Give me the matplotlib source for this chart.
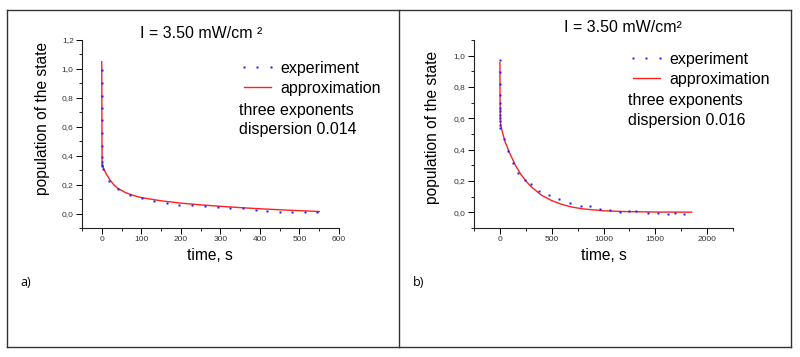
"""
Population decay of the state at I = 3.50 mW/cm2: experiment vs three-exponent fit.
"""

import matplotlib
matplotlib.use('Agg')
import matplotlib.pyplot as plt
from matplotlib.lines import Line2D
from matplotlib.ticker import MultipleLocator, FuncFormatter

# ===== DATA =====
# panel a) experiment
a_exp_t = [0, 0, 0, 0, 0, 0, 0, 0, 0, 0, 0, 3, 19, 40, 71, 102, 132, 164, 196,
           228, 260, 293, 324, 357, 389, 418, 451, 482, 514, 544]
a_exp_y = [0.99, 0.90, 0.815, 0.727, 0.644, 0.556, 0.466, 0.39, 0.355, 0.339, 0.33,
           0.31, 0.228, 0.171, 0.13, 0.106, 0.088, 0.074, 0.058,
           0.062, 0.05, 0.046, 0.037, 0.035, 0.026, 0.019, 0.014, 0.012, 0.014, 0.009]
# panel a) approximation
a_fit_t = [0, 0.5, 1, 2, 5, 10, 20, 30, 40, 60, 80, 100, 150, 200, 250, 300,
           350, 400, 450, 500, 550]
a_fit_y = [1.05, 0.5, 0.34, 0.33, 0.31, 0.28, 0.235, 0.2, 0.175, 0.145, 0.125,
           0.11, 0.088, 0.072, 0.06, 0.05, 0.041, 0.033, 0.026, 0.02, 0.014]

# panel b) experiment
b_exp_t = [0, 0, 0, 0, 0, 0, 0, 0, 0, 0, 0, 0, 35, 74, 122, 177, 242, 300, 381,
           471, 575, 678, 785, 872, 962, 1059, 1156, 1246, 1311, 1430, 1527,
           1618, 1689, 1776]
b_exp_y = [0.974, 0.893, 0.821, 0.75, 0.697, 0.665, 0.644, 0.623, 0.601, 0.58,
           0.559, 0.541, 0.467, 0.392, 0.317, 0.25, 0.207, 0.179, 0.138,
           0.111, 0.083, 0.061, 0.04, 0.04, 0.019, 0.015, 0.002, 0.01, 0.006,
           -0.006, -0.006, -0.013, -0.006, -0.009]
# panel b) approximation
b_fit_t = [0, 1, 2, 4, 8, 25, 50, 100, 150, 200, 250, 300, 400, 500, 600, 700,
           800, 1000, 1200, 1500, 1850]
b_fit_y = [0.955, 0.80, 0.70, 0.60, 0.555, 0.51, 0.45, 0.37, 0.30, 0.245, 0.2,
           0.165, 0.11, 0.075, 0.05, 0.033, 0.022, 0.01, 0.005, 0.002, 0.001]

title_text = ['I = 3.50 mW/cm \u00b2', 'I = 3.50 mW/cm\u00b2']
dispersions = ['0.014', '0.016']
panel_labels = ['a)', 'b)']

W, H = 800, 357
FS = 11.5
plt.rcParams['font.family'] = ['Liberation Sans', 'DejaVu Sans']


def px(x, y):
    """Pixel position -> figure fraction."""
    return x / W, 1 - y / H


def style_axes(ax, xlim, ylim, xmajor, ymajor):
    ax.set_xlim(*xlim)
    ax.set_ylim(*ylim)
    ax.spines['top'].set_visible(False)
    ax.spines['right'].set_visible(False)
    for s in ('left', 'bottom'):
        ax.spines[s].set_linewidth(0.8)
        ax.spines[s].set_color('#222222')
    ax.xaxis.set_major_locator(MultipleLocator(xmajor))
    ax.xaxis.set_minor_locator(MultipleLocator(xmajor / 2))
    ax.yaxis.set_major_locator(MultipleLocator(ymajor))
    ax.yaxis.set_minor_locator(MultipleLocator(ymajor / 2))
    ax.yaxis.set_major_formatter(FuncFormatter(lambda v, p: f'{v:.1f}'.replace('.', ',')))
    ax.tick_params(which='major', direction='out', length=4, width=0.7,
                   labelsize=6, labelcolor='#333333', pad=2)
    ax.tick_params(which='minor', direction='out', length=2, width=0.6)


fig = plt.figure(figsize=(W / 100, H / 100), dpi=100)

panels = [
    dict(exp=(a_exp_t, a_exp_y), fit=(a_fit_t, a_fit_y), xlim=(-50, 600),
         ylim=(-0.1, 1.2), xmajor=100, box=(82, 40, 339, 228),
         title=(201, 34), ylab=(43, 118), xlab=(210, 255), leg=(239, 71),
         plabel=(20, 283)),
    dict(exp=(b_exp_t, b_exp_y), fit=(b_fit_t, b_fit_y), xlim=(-250, 2250),
         ylim=(-0.1, 1.1), xmajor=500, box=(474, 40, 733, 228),
         title=(623, 27), ylab=(433, 127), xlab=(604, 255), leg=(628, 62),
         plabel=(413, 283)),
]

for i, p in enumerate(panels):
    x0, y0, x1, y1 = p['box']
    l, t = px(x0, y0)
    r, b = px(x1, y1)
    ax = fig.add_axes([l, b, r - l, t - b])
    ax.plot(*p['fit'], color='#ff2020', lw=1.0, zorder=2)
    ax.plot(*p['exp'], ls='none', marker='s', ms=1.6, mec='none',
            color='#1a1aff', zorder=3)
    style_axes(ax, p['xlim'], p['ylim'], p['xmajor'], 0.2)

    fig.text(*px(*p['title']), title_text[i], ha='center', va='center', fontsize=FS)
    fig.text(*px(*p['ylab']), 'population of the state', ha='center',
             va='center', rotation=90, fontsize=11.2)
    fig.text(*px(*p['xlab']), 'time, s', ha='center', va='center', fontsize=11.2)
    fig.text(*px(*p['plabel']), panel_labels[i], ha='left', va='center',
             fontsize=9, family='Open Sans')

    # legend
    lx, ly = p['leg']
    handles = [Line2D([], [], ls='none', marker='s', ms=1.8, mec='none', color='#1a1aff'),
               Line2D([], [], color='#ff2020', lw=1.0)]
    ax.legend(handles, ['experiment', 'approximation'], loc='upper left',
              bbox_to_anchor=px(lx, ly - 10), bbox_transform=fig.transFigure,
              frameon=False, fontsize=FS, numpoints=3, handlelength=2.3,
              handletextpad=0.3, labelspacing=0.3, borderpad=0, borderaxespad=0)
    fig.text(*px(lx, ly + 39), 'three exponents', ha='left', va='center', fontsize=FS)
    fig.text(*px(lx, ly + 58), 'dispersion ' + dispersions[i], ha='left',
             va='center', fontsize=FS)

# frame lines around the two panels
frame = dict(color='#333333', lw=1.0, transform=fig.transFigure)
for xs, ys in [((7, 791), (10, 10)), ((7, 791), (347, 347)),
               ((7, 7), (10, 347)), ((791, 791), (10, 347)),
               ((399, 399), (10, 347))]:
    fx = [x / W for x in xs]
    fy = [1 - y / H for y in ys]
    fig.add_artist(Line2D(fx, fy, **frame))

fig.savefig('out.png', dpi=100)
plt.close(fig)
